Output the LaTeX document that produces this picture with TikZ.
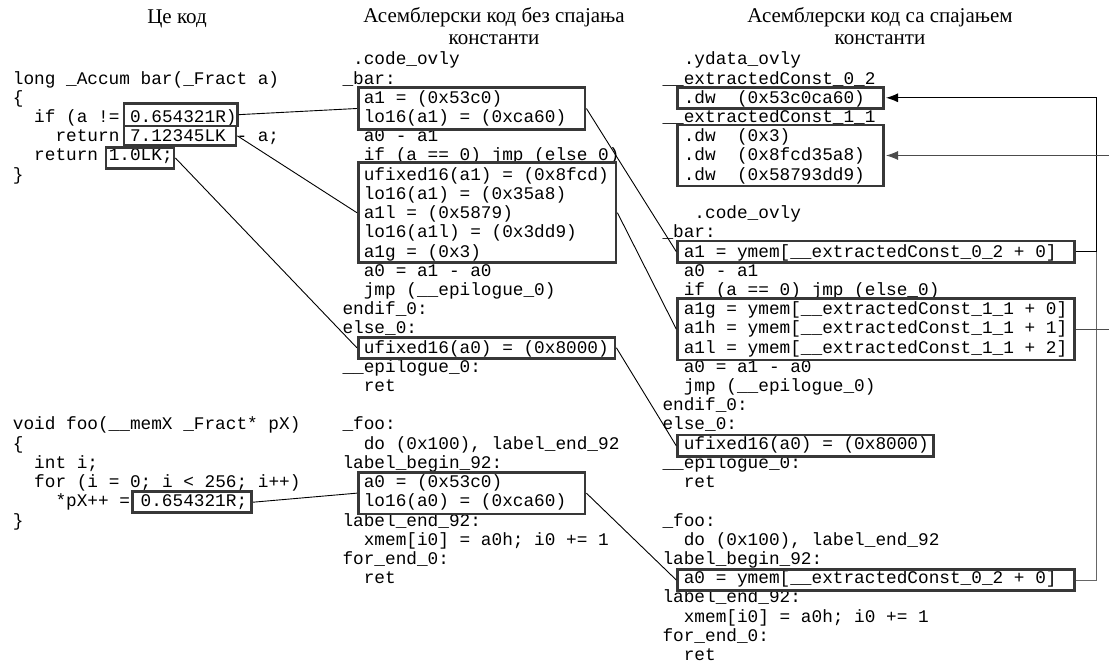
\documentclass[tikz,border=0pt]{standalone}
\usepackage{fontspec}
\setmainfont{Liberation Serif}
\newfontfamily\codefont{Liberation Mono}
\usetikzlibrary{arrows.meta}

% grid of the listings: character width, line pitch, first baseline
\def\cw{10.65}
\def\lp{19.22}
\def\bz{64.8}
% left edges of the three listings
\def\xL{12.7}
\def\xM{342.3}
\def\xR{662.3}

% one listing line: name, column origin, indent (chars), row, text
\newcommand\cl[5]{\node[code] (#1) at ({#2+#3*\cw},{\bz+#4*\lp}) {#5};}
% framed block: name, x1, y1, x2, y2
\newcommand\frbox[5]{%
  \pgfmathsetmacro\bw{#4-#2}\pgfmathsetmacro\bh{#5-#3}%
  \node[framebox, minimum width=\bw pt, minimum height=\bh pt] (#1)
    at ({(#2+#4)/2},{(#3+#5)/2}) {};}

\begin{document}
\begin{tikzpicture}[x=1pt, y=-1pt,
  code/.style={anchor=base west, inner sep=0pt,
    font=\codefont\fontsize{17.75}{19.22}\selectfont},
  hdr/.style={anchor=base, inner sep=0pt, font=\fontsize{21}{23}\selectfont},
  framebox/.style={draw=black!78, line width=2.8pt, inner sep=0pt},
  conn/.style={draw=black, line width=0.9pt},
  feed/.style={conn, -{Latex[length=12pt,width=9pt]}, shorten >=1.3pt}]
\useasboundingbox (0,0) rectangle (1109,666);
\clip (0,0) rectangle (1109,666);

% column headings
\node[hdr] (h1)  at (177,24) {Це код};
\node[hdr] (h2a) at (494,23) {Асемблерски код без спајања};
\node[hdr] (h2b) at (494,45) {константи};
\node[hdr] (h3a) at (880,23) {Асемблерски код са спајањем};
\node[hdr] (h3b) at (880,45) {константи};

% C source
\cl{la1}{\xL}{0}{1}{long \_Accum bar(\_Fract a)}
\cl{la2}{\xL}{0}{2}{\{}
\cl{la3}{\xL}{2}{3}{if (a != 0.654321R)}
\cl{la4}{\xL}{4}{4}{return 7.12345LK - a;}
\cl{la5}{\xL}{2}{5}{return 1.0LK;}
\cl{la6}{\xL}{0}{6}{\}}
\cl{lb1}{\xL}{0}{19}{void foo(\_\_memX \_Fract* pX)}
\cl{lb2}{\xL}{0}{20}{\{}
\cl{lb3}{\xL}{2}{21}{int i;}
\cl{lb4}{\xL}{2}{22}{for (i = 0; i < 256; i++)}
\cl{lb5}{\xL}{4}{23}{*pX++ = 0.654321R;}
\cl{lb6}{\xL}{0}{24}{\}}

% assembly without constant merging
\cl{m0}{\xM}{1}{0}{.code\_ovly}
\cl{m1}{\xM}{0}{1}{\_bar:}
\cl{m2}{\xM}{2}{2}{a1 = (0x53c0)}
\cl{m3}{\xM}{2}{3}{lo16(a1) = (0xca60)}
\cl{m4}{\xM}{2}{4}{a0 - a1}
\cl{m5}{\xM}{2}{5}{if (a == 0) jmp (else\_0)}
\cl{m6}{\xM}{2}{6}{ufixed16(a1) = (0x8fcd)}
\cl{m7}{\xM}{2}{7}{lo16(a1) = (0x35a8)}
\cl{m8}{\xM}{2}{8}{a1l = (0x5879)}
\cl{m9}{\xM}{2}{9}{lo16(a1l) = (0x3dd9)}
\cl{m10}{\xM}{2}{10}{a1g = (0x3)}
\cl{m11}{\xM}{2}{11}{a0 = a1 - a0}
\cl{m12}{\xM}{2}{12}{jmp (\_\_epilogue\_0)}
\cl{m13}{\xM}{0}{13}{endif\_0:}
\cl{m14}{\xM}{0}{14}{else\_0:}
\cl{m15}{\xM}{2}{15}{ufixed16(a0) = (0x8000)}
\cl{m16}{\xM}{0}{16}{\_\_epilogue\_0:}
\cl{m17}{\xM}{2}{17}{ret}
\cl{m19}{\xM}{0}{19}{\_foo:}
\cl{m20}{\xM}{2}{20}{do (0x100), label\_end\_92}
\cl{m21}{\xM}{0}{21}{label\_begin\_92:}
\cl{m22}{\xM}{2}{22}{a0 = (0x53c0)}
\cl{m23}{\xM}{2}{23}{lo16(a0) = (0xca60)}
\cl{m24}{\xM}{0}{24}{label\_end\_92:}
\cl{m25}{\xM}{2}{25}{xmem[i0] = a0h; i0 += 1}
\cl{m26}{\xM}{0}{26}{for\_end\_0:}
\cl{m27}{\xM}{2}{27}{ret}

% assembly with constant merging
\cl{r0}{\xR}{2}{0}{.ydata\_ovly}
\cl{r1}{\xR}{0}{1}{\_\_extractedConst\_0\_2}
\cl{r2}{\xR}{2}{2}{.dw~~(0x53c0ca60)}
\cl{r3}{\xR}{0}{3}{\_\_extractedConst\_1\_1}
\cl{r4}{\xR}{2}{4}{.dw~~(0x3)}
\cl{r5}{\xR}{2}{5}{.dw~~(0x8fcd35a8)}
\cl{r6}{\xR}{2}{6}{.dw~~(0x58793dd9)}
\cl{r8}{\xR}{3}{8}{.code\_ovly}
\cl{r9}{\xR}{0}{9}{\_bar:}
\cl{r10}{\xR}{2}{10}{a1 = ymem[\_\_extractedConst\_0\_2 + 0]}
\cl{r11}{\xR}{2}{11}{a0 - a1}
\cl{r12}{\xR}{2}{12}{if (a == 0) jmp (else\_0)}
\cl{r13}{\xR}{2}{13}{a1g = ymem[\_\_extractedConst\_1\_1 + 0]}
\cl{r14}{\xR}{2}{14}{a1h = ymem[\_\_extractedConst\_1\_1 + 1]}
\cl{r15}{\xR}{2}{15}{a1l = ymem[\_\_extractedConst\_1\_1 + 2]}
\cl{r16}{\xR}{2}{16}{a0 = a1 - a0}
\cl{r17}{\xR}{2}{17}{jmp (\_\_epilogue\_0)}
\cl{r18}{\xR}{0}{18}{endif\_0:}
\cl{r19}{\xR}{0}{19}{else\_0:}
\cl{r20}{\xR}{2}{20}{ufixed16(a0) = (0x8000)}
\cl{r21}{\xR}{0}{21}{\_\_epilogue\_0:}
\cl{r22}{\xR}{2}{22}{ret}
\cl{r24}{\xR}{0}{24}{\_foo:}
\cl{r25}{\xR}{2}{25}{do (0x100), label\_end\_92}
\cl{r26}{\xR}{0}{26}{label\_begin\_92:}
\cl{r27}{\xR}{2}{27}{a0 = ymem[\_\_extractedConst\_0\_2 + 0]}
\cl{r28}{\xR}{0}{28}{label\_end\_92:}
\cl{r29}{\xR}{2}{29}{xmem[i0] = a0h; i0 += 1}
\cl{r30}{\xR}{0}{30}{for\_end\_0:}
\cl{r31}{\xR}{2}{31}{ret}

% frames around the constants and the code that loads them
\frbox{bL1}{124}{103.3}{237.3}{126}
\frbox{bL2}{124}{126}{236}{145.7}
\frbox{bL3}{106}{147.7}{174}{168.3}
\frbox{bL4}{132.7}{491.7}{251.7}{512.7}
\frbox{bM1}{358.3}{87.7}{585}{129.3}
\frbox{bM2}{358.3}{162.7}{616}{262.7}
\frbox{bM3}{358.3}{337.3}{615}{358.3}
\frbox{bM4}{358.3}{472.3}{585}{514}
\frbox{bR1}{677.7}{87.3}{883.3}{108.3}
\frbox{bR2}{677.7}{125}{883.3}{186}
\frbox{bR3}{677.7}{241}{1074.3}{262.3}
\frbox{bR4}{677.7}{298.3}{1074.3}{360}
\frbox{bR5}{677.7}{435}{933.3}{456.7}
\frbox{bR6}{677.7}{569.3}{1074.3}{590.7}

% source constant -> inline load
\draw[conn] (bL1.east) -- (bM1.west);
\draw[conn] (bL2.east) -- (bM2.west);
\draw[conn] (bL3.east) -- (bM3.west);
\draw[conn] (bL4.east) -- (bM4.west);
% inline load -> load from ydata
\draw[conn] (bM1.east) -- (bR3.west);
\draw[conn] (bM2.east) -- (bR4.west);
\draw[conn] (bM3.east) -- (bR5.west);
\draw[conn] (bM4.east) -- (bR6.west);

% loads referring to the merged constants
\coordinate (bus) at (1096.7,0);
\coordinate (loop) at (1130,0);
\draw[conn, draw=black!60] (bR6.east) -- (bR6.east -| bus) -- (bus |- bR3.east);
\draw[feed] (bR3.east) -- (bR3.east -| bus) |- (bR1.east);
\draw[feed, draw=black!70] (bR4.east) -- (bR4.east -| loop) |- (bR2.east);
\end{tikzpicture}
\end{document}
